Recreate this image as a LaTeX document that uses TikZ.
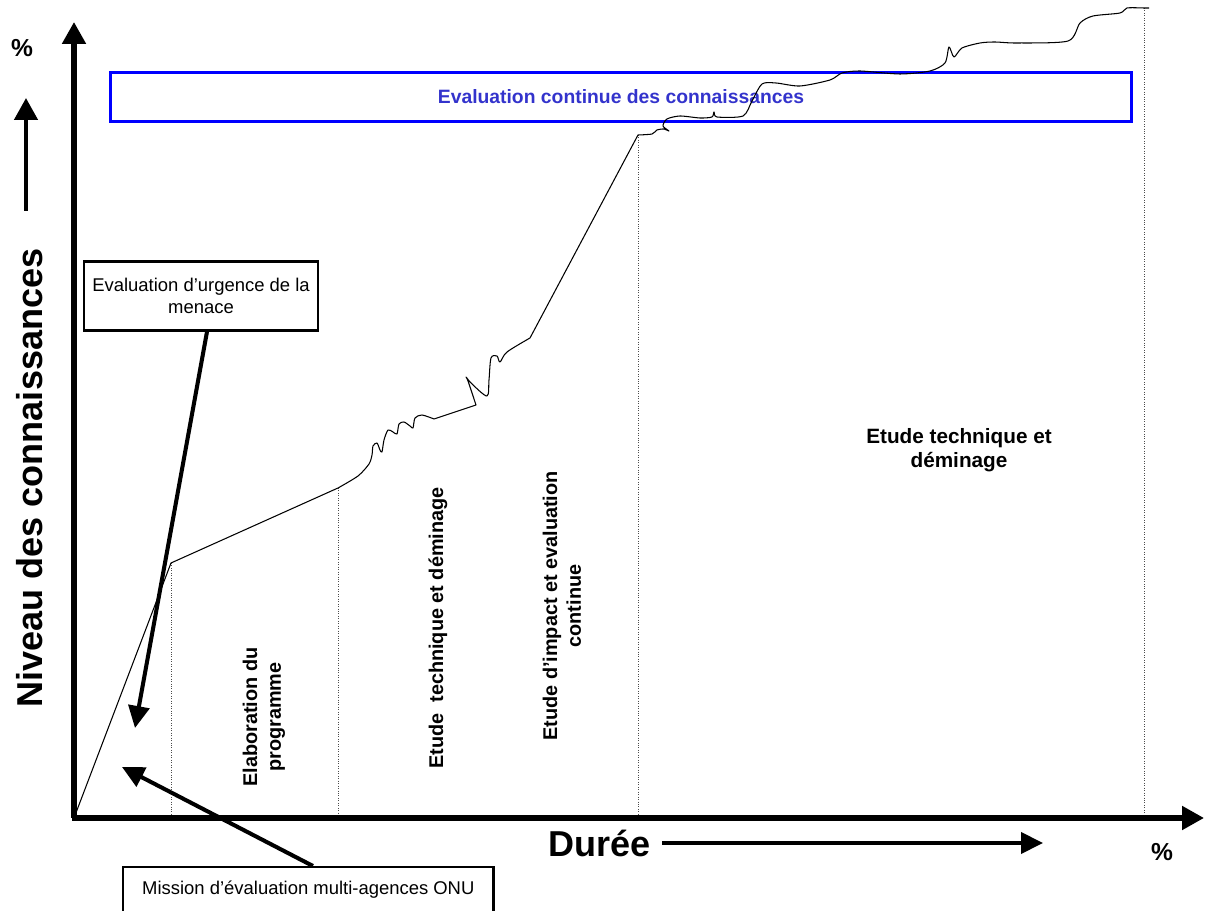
\documentclass[tikz,border=0pt]{standalone}
\usepackage{fontspec}
\setmainfont{Liberation Sans}
\usetikzlibrary{arrows.meta,positioning}
\definecolor{evalblue}{RGB}{51,51,204}

\begin{document}
\begin{tikzpicture}[x=0.02cm ,y=-0.02cm ,
bigarrow/.style ={line width =2.9pt ,-{Triangle[length=0.44cm ,width=0.46cm]}},
pointer/.style ={line width =2.3pt ,-{Triangle[length=0.44cm ,width=0.42cm]}},
labelbox/.style ={draw ,line width =1.4pt ,align=center ,inner sep=0pt ,
  font=\fontsize{10.5}{12.5}\selectfont},
phase/.style ={align=center ,font=\bfseries\fontsize{11.3}{13.5}\selectfont},
axislabel/.style ={font=\bfseries\fontsize{20.5}{24}\selectfont},
guide/.style ={densely dotted ,black!70 ,line width =0.4pt},
curve/.style ={line width =0.6pt ,line join=round}]
\useasboundingbox (0,0) rectangle (1205,911);

\coordinate (O) at (74,818);
\coordinate (ytip) at (74,22);
\coordinate (xtip) at (1204,818);
\coordinate (k1) at (171,563);
\coordinate (k2) at (338,488);
\coordinate (k3) at (530,338);
\coordinate (k4) at (638,135);
\coordinate (k5) at (1144,8);

\node[labelbox ,draw=blue ,line width =1.7pt ,text=evalblue ,font=\bfseries\fontsize{11}{13}\selectfont ,
  minimum width =20.44cm ,minimum height =0.98cm] (eval) at (621,97) {Evaluation continue des connaissances};

\draw[guide] (k1) -- (k1 |- O);
\draw[guide] (k2) -- (k2 |- O);
\draw[guide] (k4) -- (k4 |- O);
\draw[guide] (k5) -- (k5 |- O);

\draw[curve] (O) -- (k1) -- (k2) -- plot[smooth ,tension=0.45] coordinates {(k2) (358,476) (369,464)
  (372,455) (373,446) (377,443) (380,450) (382,452) (384,440) (388,430) (393,432) (397,434) (399,424)
  (404,422) (410,426) (413,428) (415,418) (422,415) (434,419)}
  -- (476,405) -- plot[smooth ,tension=0.5] coordinates {(476,405) (468,381) (466,377) (472,384)
  (487,396) (489,380) (491,358) (497,356) (500,362) (507,352) (k3)}
  -- (k4) -- plot[smooth ,tension=0.45] coordinates {(k4) (652,134) (657,130) (664,129) (669,131)
  (663,126) (667,119) (680,116) (700,118) (712,117) (714,112) (717,117) (743,116) (752,101) (762,84)
  (776,83) (800,86) (830,80) (842,73) (860,71) (900,74) (930,71) (945,63) (949,47) (954,57) (962,48)
  (980,43) (995,42) (1017,43) (1068,41) (1080,23) (1093,16) (1120,13) (1127,8) (k5) (1149,8)};

\draw[bigarrow] (O) -- (ytip);
\draw[bigarrow] (72,818) -- (xtip);
\coordinate (up0) at (26,211);
\coordinate (up1) at (26,98);
\draw[bigarrow ,line width =2.6pt] (up0) -- (up1);

\node[axislabel ,font=\bfseries\fontsize{14}{16}\selectfont] (pctY) at (22,48) {\%};
\node[axislabel ,font=\bfseries\fontsize{14}{16}\selectfont] (pctX) at (1162,852) {\%};
\node[axislabel ,rotate=90] (niveau) at (30,478) {Niveau des connaissances};
\node[axislabel ,anchor=east] (duree) at (657,843) {Durée};
\coordinate (dureetip) at (1043,843);
\draw[pointer] ([xshift=0.1cm]duree.east) -- (dureetip);

\node[phase ,rotate=90] (elab) at (264,717) {Elaboration du\\programme};
\node[phase ,rotate=90] (etude1) at (438,628) {Etude\ \ technique et déminage};
\node[phase ,rotate=90] (impact) at (562,606) {Etude d’impact et evaluation\\continue};
\node[phase ,font=\bfseries\fontsize{11.8}{14}\selectfont] (etude2) at (959,450) {Etude technique et\\déminage};

\node[labelbox ,minimum width =4.68cm ,minimum height =1.38cm] (urgence) at (201,296)
  {Evaluation d’urgence de la\\menace};
\node[labelbox ,anchor=north west ,minimum height =0.9cm ,inner xsep=0.38cm] (mission) at (122,866)
  {Mission d’évaluation multi-agences ONU};

\coordinate (urgtip) at (135,728);
\coordinate (mistip) at (122,767);
\draw[pointer] ([xshift=0.12cm]urgence.south) -- (urgtip);
\draw[pointer] ([xshift=3.82cm]mission.north west) -- (mistip);
\end{tikzpicture}
\end{document}
